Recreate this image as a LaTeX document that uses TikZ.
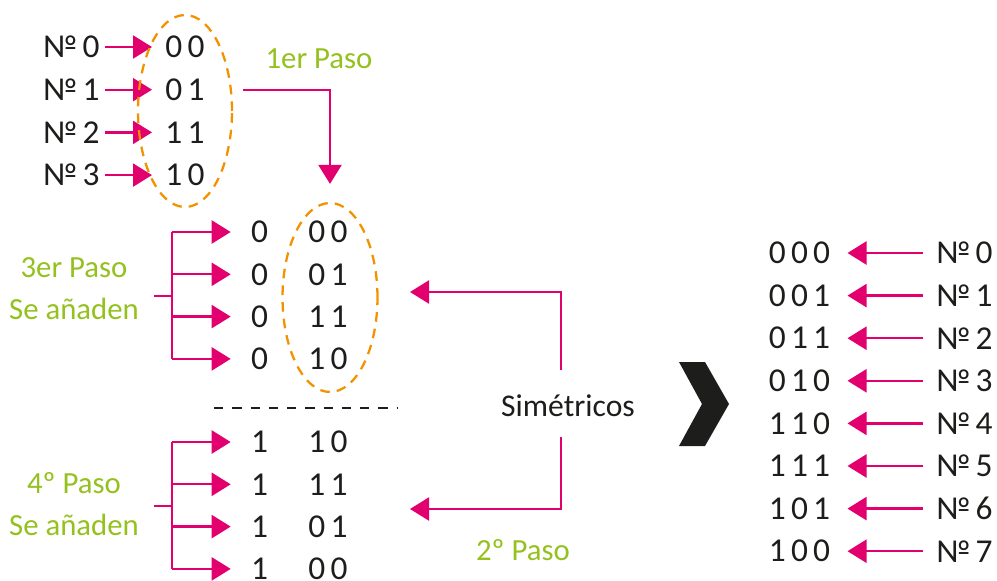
\documentclass[tikz,border=0pt]{standalone}
\usepackage{fontspec}
\setmainfont{Carlito}
\usetikzlibrary{shapes.geometric, arrows.meta, positioning}

\definecolor{rosa}{HTML}{E2006F}
\definecolor{lima}{HTML}{95C11F}
\definecolor{naranja}{HTML}{F39200}
\definecolor{tinta}{HTML}{1D1D1B}
\newcommand\bk{\kern3pt}

\begin{document}
\begin{tikzpicture}[x=0.02cm, y=-0.02cm, font=\fontsize{19}{24}\selectfont,
    txt/.style={inner sep=0pt, text=tinta},
    paso/.style={inner sep=0pt, text=lima, align=center, font=\fontsize{17.5}{24}\selectfont},
    linea/.style={draw=rosa, line width=1.3pt},
    flecha/.style={linea, -{Triangle[length=0.38cm, width=0.46cm]}},
    anillo/.style={ellipse, draw=naranja, line width=1.3pt, inner sep=0pt, dash pattern=on 5.5pt off 4pt}]
    \useasboundingbox (0,0) rectangle (997,581);

    % 2 bits
    \foreach \i/\c in {0/0\bk0, 1/0\bk1, 2/1\bk1, 3/1\bk0} {
        \node (n\i) [txt, anchor=east] at (100, 47+42.7*\i) {№\kern3pt\i};
        \node (b\i) [txt, anchor=west] at (165, 47+42.7*\i) {\c};
        \draw [flecha, shorten <=0.1cm, shorten >=0.26cm] (n\i) -- (b\i);
    }
    \node (ring1) [anillo, minimum width=1.88cm, minimum height=3.84cm] at (185,111) {};
    \node (p1) [paso, anchor=base] at (319,69) {1er Paso};

    % reflejo, se antepone 0
    \foreach \i/\c in {0/0\bk0, 1/0\bk1, 2/1\bk1, 3/1\bk0} {
        \node (z\i) [txt] at (259.5, 232+42.3*\i) {0};
        \node (w\i) [txt] at (328, 232+42.3*\i) {\c};
    }
    \node (ring2) [anillo, minimum width=1.9cm, minimum height=3.78cm] at (330,297.5) {};
    \draw [flecha, shorten <=0.2cm, shorten >=0.36cm] (ring1.east |- b1) -| (ring2.north);

    \node (p3) [paso] at (74,289) {3er Paso\\Se añaden};
    \coordinate (j3) at (172,296);
    \draw [linea, shorten <=0.3cm] (j3 -| p3.east) -- (j3);
    \draw [linea] (j3 |- z0) -- (j3 |- z3);
    \foreach \i in {0,...,3}
        \draw [flecha, shorten >=0.4cm] (j3 |- z\i) -- (z\i);

    \draw [tinta, line width=1.5pt, dash pattern=on 5.3pt off 5.1pt] (214,408) -- (397,408);

    % se antepone 1
    \foreach \i/\c in {0/1\bk0, 1/1\bk1, 2/0\bk1, 3/0\bk0} {
        \node (o\i) [txt] at (259.5, 442+42.3*\i) {1};
        \node (v\i) [txt] at (328, 442+42.3*\i) {\c};
    }
    \node (p4) [paso] at (74,504.5) {4º Paso\\Se añaden};
    \coordinate (j4) at (172,506);
    \draw [linea, shorten <=0.3cm] (j4 -| p4.east) -- (j4);
    \draw [linea] (j4 |- o0) -- (j4 |- o3);
    \foreach \i in {0,...,3}
        \draw [flecha, shorten >=0.4cm] (j4 |- o\i) -- (o\i);

    \node (sim) [txt, anchor=base, font=\fontsize{18}{24}\selectfont] at (568,416) {Simétricos};
    \coordinate (s1) at (561,370);
    \coordinate (s2) at (561,437);
    \coordinate (t1) at (410,292);
    \coordinate (t2) at (410,509);
    \draw [flecha] (s1) |- (t1);
    \draw [flecha] (s2) |- (t2);
    \node (p2) [paso, anchor=base] at (523,560) {2º Paso};

    \fill [tinta] (679,362) -- (705,362) -- (729,404) -- (705,446) -- (679,446) -- (702,404) -- cycle;

    % 3 bits
    \foreach \i/\c in {0/0\bk0\bk0, 1/0\bk0\bk1, 2/0\bk1\bk1, 3/0\bk1\bk0, 4/1\bk1\bk0, 5/1\bk1\bk1, 6/1\bk0\bk1, 7/1\bk0\bk0} {
        \node (r\i) [txt] at (799.5, 253+42.6*\i) {\c};
        \node (m\i) [txt, anchor=east] at (993, 253+42.6*\i) {№\kern3pt\i};
        \draw [flecha, shorten <=0.26cm, shorten >=0.34cm] (m\i) -- (r\i);
    }
\end{tikzpicture}
\end{document}
